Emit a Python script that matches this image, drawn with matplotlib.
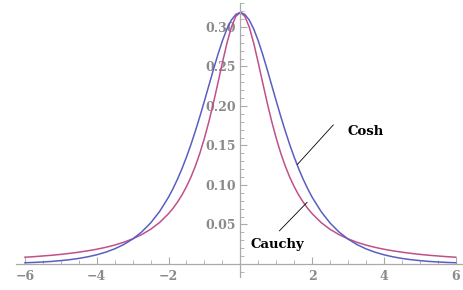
import matplotlib
matplotlib.use("Agg")
import matplotlib.pyplot as plt
from matplotlib.ticker import MultipleLocator

# values (right half, curves are symmetric about 0)
x_half = [0, 0.125, 0.25, 0.375, 0.5, 0.625, 0.75, 0.875, 1, 1.125, 1.25, 1.375,
          1.5, 1.625, 1.75, 1.875, 2, 2.25, 2.5, 2.75, 3, 3.25, 3.5, 3.75, 4,
          4.25, 4.5, 4.75, 5, 5.25, 5.5, 5.75, 6]
cosh_half = [0.3183, 0.3158, 0.3086, 0.2972, 0.2823, 0.2649, 0.2459, 0.2261, 0.2063,
             0.1870, 0.1686, 0.1513, 0.1353, 0.1207, 0.1074, 0.0954, 0.0846,
             0.0664, 0.0519, 0.0405, 0.0316, 0.0246, 0.0192, 0.0150, 0.0117,
             0.0091, 0.0071, 0.0055, 0.0043, 0.0033, 0.0026, 0.0020, 0.0016]
cauchy_half = [0.3183, 0.3134, 0.2996, 0.2791, 0.2546, 0.2289, 0.2037, 0.1803, 0.1592,
               0.1405, 0.1242, 0.1101, 0.0979, 0.0874, 0.0784, 0.0705, 0.0637,
               0.0525, 0.0439, 0.0372, 0.0318, 0.0275, 0.0240, 0.0211, 0.0187,
               0.0167, 0.0150, 0.0135, 0.0122, 0.0111, 0.0102, 0.0093, 0.0086]

x = [-v for v in x_half[:0:-1]] + x_half
cosh_y = cosh_half[:0:-1] + cosh_half
cauchy_y = cauchy_half[:0:-1] + cauchy_half

x_ticks = [-6, -4, -2, 2, 4, 6]
y_ticks = [0.05, 0.10, 0.15, 0.20, 0.25, 0.30]

blue = "#5a5ec4"
pink = "#c0508a"
gray = "#8a8a8a"

fig = plt.figure(figsize=(4.64, 2.90), dpi=100)
ax = fig.add_axes([0.0345, 0.046, 0.963, 0.943])

ax.plot(x, cauchy_y, color=pink, lw=1.1)
ax.plot(x, cosh_y, color=blue, lw=1.1)

ax.set_xlim(-6.25, 6.2)
ax.set_ylim(-0.016, 0.330)

for s in ["top", "right"]:
    ax.spines[s].set_visible(False)
ax.spines["left"].set_position(("data", 0))
ax.spines["bottom"].set_position(("data", 0))
for s in ["left", "bottom"]:
    ax.spines[s].set_color("#aaaaaa")
    ax.spines[s].set_linewidth(0.9)

ax.set_xticks(x_ticks)
ax.set_xticklabels([f"\u2212{-t}" if t < 0 else str(t) for t in x_ticks])
ax.set_yticks(y_ticks)
ax.set_yticklabels([f"{t:.2f}" for t in y_ticks])
ax.xaxis.set_minor_locator(MultipleLocator(0.5))
ax.yaxis.set_minor_locator(MultipleLocator(0.01))
ax.tick_params(which="both", direction="in", color="#aaaaaa", labelcolor=gray)
ax.tick_params(which="major", length=5, width=0.8, pad=4)
ax.tick_params(which="minor", length=3, width=0.6)
ax.tick_params(axis="y", pad=3)
for lab in ax.get_xticklabels() + ax.get_yticklabels():
    lab.set_fontfamily("DejaVu Serif")
    lab.set_fontsize(9)
    lab.set_fontweight("bold")

# leader lines and labels
ax.plot([1.59, 2.59], [0.126, 0.176], color="black", lw=0.6)
ax.plot([1.09, 1.86], [0.042, 0.078], color="black", lw=0.6)
ax.text(2.98, 0.168, "Cosh", fontfamily="DejaVu Serif", fontweight="bold",
        fontsize=9.5, va="center", ha="left")
ax.text(0.27, 0.0246, "Cauchy", fontfamily="DejaVu Serif", fontweight="bold",
        fontsize=9.5, va="center", ha="left")

fig.savefig("out.png", dpi=100)
